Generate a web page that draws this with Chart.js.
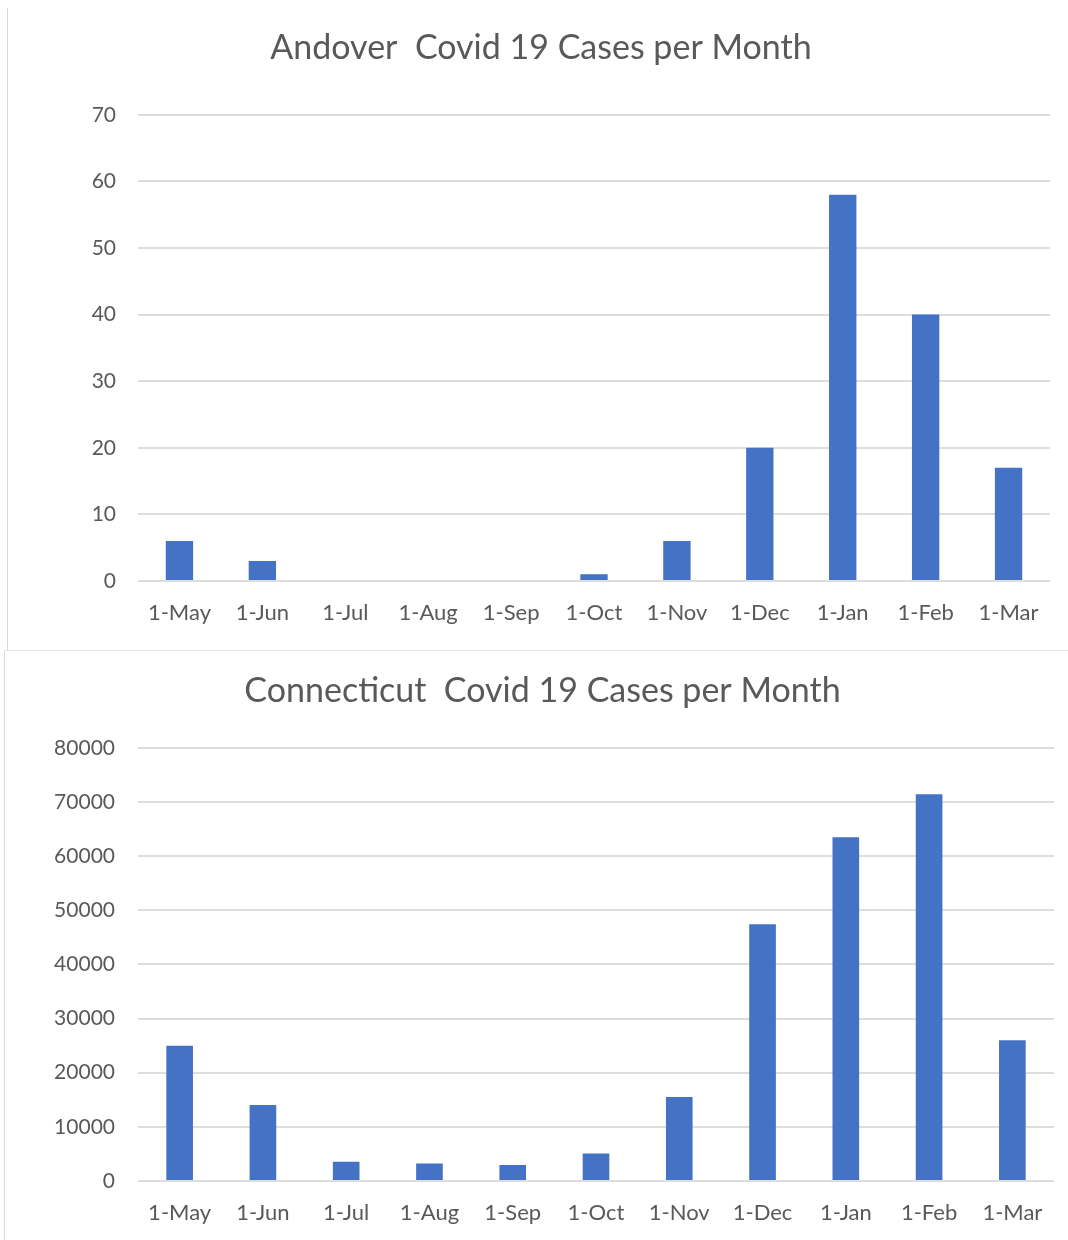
<!DOCTYPE html>
<html>
<head>
<meta charset="utf-8">
<script src="https://cdn.jsdelivr.net/npm/chart.js@4/dist/chart.umd.min.js"></script>
<style>
  html, body { margin: 0; padding: 0; background: #fff; }
  body { width: 1068px; height: 1240px; position: relative; overflow: hidden; }
  .panel { position: absolute; background: #fff; }
  #panelTop { left: 7px; top: 8px; width: 1060px; height: 642px; border-left: 1px solid #d9d9d9; }
  #panelBottom { left: 4px; top: 650px; width: 1063px; height: 589px; border-left: 1px solid #d9d9d9; border-top: 1px solid #e6e6e6; }
  canvas { display: block; }
</style>
</head>
<body>
<div class="panel" id="panelTop"><canvas id="andover" width="1060" height="642"></canvas></div>
<div class="panel" id="panelBottom"><canvas id="connecticut" width="1063" height="589"></canvas></div>
<script>
// Month labels shared by both charts
const months = ['1-May', '1-Jun', '1-Jul', '1-Aug', '1-Sep', '1-Oct', '1-Nov', '1-Dec', '1-Jan', '1-Feb', '1-Mar'];

// Monthly new cases, Andover
const andoverCases = [6, 3, 0, 0, 0, 1, 6, 20, 58, 40, 17];

// Monthly new cases, Connecticut
const connecticutCases = [25000, 14050, 3550, 3250, 2950, 5100, 15500, 47400, 63500, 71400, 26000];

// Value axis settings
const andoverAxis = { max: 70, step: 10 };
const connecticutAxis = { max: 80000, step: 10000 };

const FONT = 'Lato, "Open Sans", sans-serif';
const TEXT = '#595959';
const GRID = '#dedede';
const BAR = '#4472C4';

function makeChart(id, title, values, axis, geom) {
  return new Chart(document.getElementById(id), {
    type: 'bar',
    data: {
      labels: months,
      datasets: [{
        data: values,
        backgroundColor: BAR,
        borderWidth: 0,
        categoryPercentage: 1,
        barPercentage: geom.barPct
      }]
    },
    options: {
      responsive: false,
      animation: false,
      devicePixelRatio: 1,
      layout: { padding: { left: geom.padLeft, right: geom.padRight, top: 0, bottom: 0 } },
      plugins: {
        legend: { display: false },
        tooltip: { enabled: false },
        title: {
          display: true,
          text: title,
          color: TEXT,
          font: { family: FONT, size: 34, weight: 'normal' },
          padding: { top: geom.titleTop, bottom: geom.titleBottom }
        }
      },
      scales: {
        x: {
          grid: { display: false, drawTicks: false },
          border: { display: false },
          ticks: {
            color: TEXT,
            font: { family: FONT, size: 22 },
            padding: 19,
            maxRotation: 0,
            autoSkip: false
          },
          afterFit(scale) { scale.height = geom.xHeight; }
        },
        y: {
          min: 0,
          max: axis.max,
          grid: { color: GRID, lineWidth: 2, drawTicks: false },
          border: { display: false },
          ticks: {
            stepSize: axis.step,
            color: TEXT,
            font: { family: FONT, size: 21 },
            padding: geom.yPad,
            callback: (v) => String(v)
          },
          afterFit(scale) { scale.width = geom.yWidth; }
        }
      }
    }
  });
}

makeChart('andover', 'Andover  Covid 19 Cases per Month', andoverCases, andoverAxis,
  { barPct: 0.33, padLeft: 24, padRight: 18, titleTop: 20, titleBottom: 46, xHeight: 69, yWidth: 106, yPad: 22 });

makeChart('connecticut', 'Connecticut  Covid 19 Cases per Month', connecticutCases, connecticutAxis,
  { barPct: 0.32, padLeft: 26, padRight: 14, titleTop: 20, titleBottom: 36, xHeight: 59, yWidth: 107, yPad: 23 });
</script>
</body>
</html>
